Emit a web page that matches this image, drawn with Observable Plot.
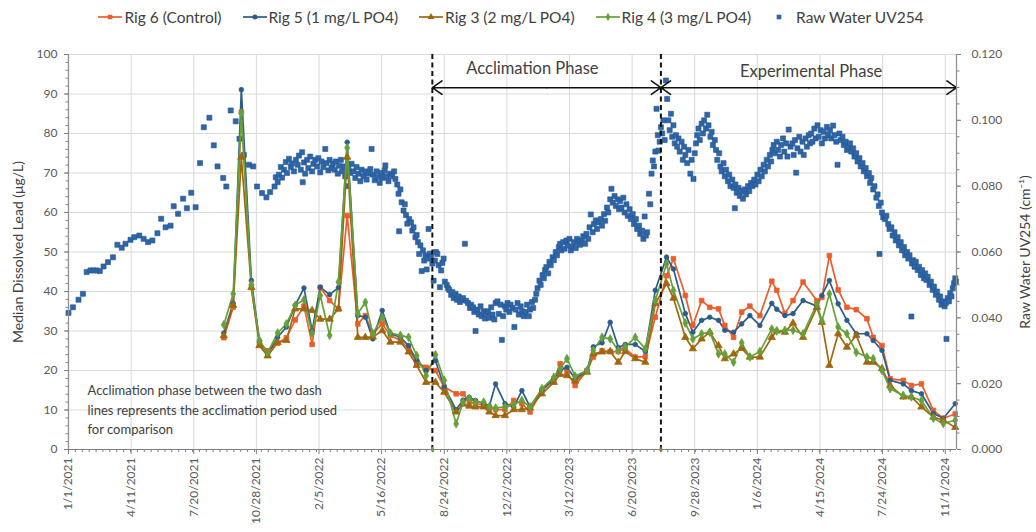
<!DOCTYPE html>
<html><head><meta charset="utf-8">
<script src="https://cdn.jsdelivr.net/npm/d3@7"></script>
<script src="https://cdn.jsdelivr.net/npm/@observablehq/plot@0.6"></script>
<style>
body{margin:0;background:#fff;font-family:Lato,"Open Sans",sans-serif;}
#legend{height:34px;display:flex;justify-content:center;align-items:center;gap:21px;font-size:15.5px;color:#404040;padding-right:14px;box-sizing:border-box;width:1036px}
.item{display:flex;align-items:center;gap:2px;white-space:nowrap}
</style></head><body><div id="legend"></div><div id="chart"></div>
<script>
// ---------- Tick labels ----------
const xTickLabels = ["1/1/2021","4/11/2021","7/20/2021","10/28/2021","2/5/2022","5/16/2022","8/24/2022","12/2/2022","3/12/2023","6/20/2023","9/28/2023","1/6/2024","4/15/2024","7/24/2024","11/1/2024"];
const yLeftTicks = [0,10,20,30,40,50,60,70,80,90,100];
const yRightTicks = [0,0.02,0.04,0.06,0.08,0.10,0.12];

// ---------- Series names ----------
const seriesNames = ["Rig 6 (Control)","Rig 5 (1 mg/L PO4)","Rig 3 (2 mg/L PO4)","Rig 4 (3 mg/L PO4)","Raw Water UV254"];

// ---------- Lead data (µg/L) ----------
const leadDates = ["2021-09-06","2021-09-21","2021-10-04","2021-10-20","2021-11-02","2021-11-15","2021-12-01","2021-12-15","2021-12-29","2022-01-12","2022-01-25","2022-02-07","2022-02-22","2022-03-08","2022-03-22","2022-04-08","2022-04-20","2022-05-02","2022-05-17","2022-05-30","2022-06-15","2022-06-28","2022-07-11","2022-07-26","2022-08-10","2022-08-24","2022-09-12","2022-09-23","2022-10-03","2022-10-13","2022-10-26","2022-11-04","2022-11-14","2022-11-29","2022-12-13","2022-12-26","2023-01-08","2023-01-27","2023-02-15","2023-02-25","2023-03-08","2023-03-21","2023-04-09","2023-04-19","2023-05-03","2023-05-16","2023-05-29","2023-06-09","2023-06-25","2023-07-11","2023-07-27","2023-08-14","2023-08-25","2023-09-13","2023-09-25","2023-10-09","2023-10-22","2023-11-05","2023-11-15","2023-11-29","2023-12-12","2023-12-25","2024-01-10","2024-01-29","2024-02-06","2024-02-19","2024-03-03","2024-03-19","2024-04-10","2024-04-18","2024-04-30","2024-05-14","2024-05-28","2024-06-12","2024-06-29","2024-07-09","2024-07-23","2024-08-05","2024-08-26","2024-09-08","2024-09-24","2024-10-13","2024-10-29","2024-11-17"];
const rig6 = [28.3,36.0,85.4,41.1,26.8,25.0,26.9,28.3,32.8,36.3,26.6,41.0,37.7,35.6,59.2,31.8,33.9,29.3,31.8,28.9,27.6,25.5,22.1,20.8,20.0,15.8,14.1,14.1,12.0,11.6,11.2,10.5,10.1,10.1,12.4,11.6,9.5,15.0,17.5,21.7,19.5,16.2,20.0,23.4,25.0,24.8,24.8,25.5,23.4,23.5,33.5,44.0,48.3,39.0,31.4,37.7,36.0,35.6,31.4,28.4,34.8,36.3,33.9,42.6,40.3,34.4,37.7,42.4,37.7,38.5,49.1,40.4,36.0,35.4,33.1,28.4,26.3,17.9,17.5,16.2,16.6,9.9,7.9,9.0];
const rig5 = [29.5,37.0,91.1,42.8,27.5,24.2,28.4,31.0,36.5,40.9,30.0,41.1,39.2,41.0,77.8,33.9,33.5,28.0,35.2,29.3,28.4,26.3,22.5,20.0,22.5,15.8,10.1,12.5,13.2,12.4,11.5,11.0,16.6,11.6,10.8,14.9,10.8,15.0,18.0,20.0,20.8,17.9,20.0,26.0,27.0,32.2,25.8,26.6,26.6,24.8,40.3,48.7,45.7,34.4,29.7,32.7,33.5,32.7,30.2,29.7,31.8,33.9,31.4,37.0,35.5,33.9,34.4,37.7,36.3,39.0,42.8,36.9,32.7,29.3,29.3,27.6,25.1,17.5,16.6,14.9,14.1,9.1,7.9,11.6];
const rig3 = [28.8,36.5,74.0,41.0,26.3,23.7,27.1,27.6,35.6,35.6,35.2,33.0,33.0,35.6,74.0,28.4,28.4,28.5,30.1,27.2,27.2,24.7,21.3,17.0,17.0,14.5,9.5,11.5,11.0,10.8,10.8,9.5,8.6,8.6,10.1,10.1,10.5,14.1,17.0,19.0,18.7,17.3,19.6,24.2,24.7,24.8,22.1,24.8,23.0,22.1,36.9,42.0,38.3,28.4,25.5,28.0,29.7,26.3,23.0,24.2,25.6,23.4,23.4,28.4,30.0,29.7,32.0,28.4,36.0,32.2,21.3,29.3,25.9,28.9,22.1,22.1,20.5,16.2,13.3,13.3,10.8,8.2,7.4,5.6];
const rig4 = [31.6,39.4,85.2,41.8,27.6,24.5,29.5,31.8,36.5,37.9,29.4,39.0,28.9,42.4,76.4,34.4,37.3,29.3,33.5,29.5,28.9,28.4,23.8,18.7,24.0,17.5,6.5,12.0,12.9,12.0,12.0,10.8,10.5,10.8,11.4,12.4,10.8,15.4,18.3,20.5,23.0,18.6,20.0,25.1,28.4,28.0,25.1,26.0,28.4,25.5,37.7,47.0,40.3,32.0,28.0,29.3,29.7,24.2,24.2,22.1,27.0,23.4,24.8,30.5,30.0,30.2,30.2,29.3,36.9,32.5,39.4,31.0,29.3,24.6,23.4,23.0,20.0,15.4,13.7,13.3,12.4,7.9,6.6,7.4];

// ---------- Raw water UV254 (cm-1) ----------
const uv2021 = [["2021-01-01",.0415],["2021-01-08",.0432],["2021-01-17",.0455],["2021-01-24",.0473],["2021-01-30",.0539],["2021-02-05",.0544],["2021-02-10",.0544],["2021-02-15",.0544],["2021-02-20",.0542],["2021-02-26",.0556],["2021-03-05",.0569],["2021-03-13",.0584],["2021-03-20",.0622],["2021-03-27",.0613],["2021-04-02",.0625],["2021-04-10",.0637],["2021-04-16",.0645],["2021-04-24",.065],["2021-05-01",.064],["2021-05-08",.063],["2021-05-15",.0635],["2021-05-23",.0657],["2021-05-29",.0701],["2021-06-05",.0675],["2021-06-13",.068],["2021-06-18",.0739],["2021-06-25",.0716],["2021-07-03",.0762],["2021-07-09",.0733],["2021-07-16",.078],["2021-07-23",.0736],["2021-07-30",.087],["2021-08-05",.0979],["2021-08-14",.1008],["2021-08-21",.0924],["2021-08-27",.086],["2021-09-05",.0825],["2021-09-10",.0799],["2021-09-17",.103],["2021-09-25",.0997],["2021-10-01",.0944],["2021-10-08",.0895],["2021-10-16",.0865],["2021-10-23",.086],["2021-10-29",.0799],["2021-11-06",.0779],["2021-11-13",.0766],["2021-11-19",.0782],["2021-11-26",.0799],["2021-11-28",.0827],
["2021-12-01",.0812],["2021-12-03",.0835],["2021-12-06",.0858],["2021-12-08",.0826],["2021-12-11",.085],["2021-12-14",.0873],["2021-12-16",.084],["2021-12-19",.0883],["2021-12-22",.0858],["2021-12-24",.0869],["2021-12-27",.0845],["2021-12-30",.088]];
const uv2022 = [["2022-01-02",.0865],["2022-01-04",.0893],["2022-01-07",.085],["2022-01-09",.0903],["2022-01-10",.0812],["2022-01-12",.0872],["2022-01-14",.0838],["2022-01-17",.088],["2022-01-19",.0855],["2022-01-22",.089],["2022-01-25",.0845],["2022-01-27",.0868],["2022-01-30",.088],
["2022-02-02",.086],["2022-02-04",.0885],["2022-02-07",.0842],["2022-02-09",.0875],["2022-02-12",.0858],["2022-02-15",.0913],["2022-02-17",.087],["2022-02-20",.0848],["2022-02-22",.088],["2022-02-25",.0855],["2022-02-27",.0868],
["2022-03-02",.085],["2022-03-04",.0875],["2022-03-07",.0838],["2022-03-09",.0862],["2022-03-12",.088],["2022-03-14",.0845],["2022-03-17",.086],["2022-03-19",.083],["2022-03-22",.08],["2022-03-24",.0855],["2022-03-27",.084],["2022-03-29",.0868],
["2022-04-01",.0845],["2022-04-04",.0825],["2022-04-06",.0858],["2022-04-09",.0838],["2022-04-12",.0815],["2022-04-14",.085],["2022-04-17",.083],["2022-04-20",.0845],["2022-04-22",.082],["2022-04-25",.0838],["2022-04-28",.0852],["2022-04-30",.0913],
["2022-05-02",.0835],["2022-05-05",.0818],["2022-05-08",.0845],["2022-05-10",.0828],["2022-05-13",.081],["2022-05-16",.084],["2022-05-18",.0825],["2022-05-21",.0848],["2022-05-22",.0863],["2022-05-24",.083],["2022-05-27",.0815],["2022-05-30",.0838],
["2022-06-02",.083],["2022-06-05",.0845],["2022-06-07",.0822],["2022-06-10",.0805],["2022-06-12",.0777],["2022-06-13",.0663],["2022-06-15",.079],["2022-06-17",.0751],["2022-06-20",.0726],["2022-06-22",.0745],["2022-06-24",.0712],["2022-06-26",.0686],["2022-06-29",.07],
["2022-07-02",.069],["2022-07-04",.0665],["2022-07-06",.0675],["2022-07-09",.0645],["2022-07-11",.0652],["2022-07-13",.063],["2022-07-15",.0594],["2022-07-17",.062],["2022-07-19",.0542],["2022-07-21",.0605],["2022-07-23",.0574],["2022-07-25",.059],["2022-07-27",.0547],["2022-07-29",.058],["2022-07-30",.067],
["2022-08-01",.0595],["2022-08-03",.0584],["2022-08-05",.0565],["2022-08-07",.0513],["2022-08-09",.0574],["2022-08-11",.06],["2022-08-13",.0594],["2022-08-15",.056],["2022-08-17",.0493],["2022-08-19",.0544],["2022-08-21",.0567],["2022-08-23",.058],["2022-08-25",.051],["2022-08-28",.05],["2022-08-30",.049],
["2022-09-01",.0485],["2022-09-04",.047],["2022-09-06",.0478],["2022-09-08",.046],["2022-09-11",.0473],["2022-09-13",.0455],["2022-09-16",.0465],["2022-09-18",.0448],["2022-09-21",.0455],["2022-09-23",.046],["2022-09-26",.0625],["2022-09-28",.0452],
["2022-10-01",.0445],["2022-10-04",.043],["2022-10-06",.044],["2022-10-09",.0432],["2022-10-11",.0418],["2022-10-13",.036],["2022-10-16",.0425],["2022-10-18",.041],["2022-10-21",.0435],["2022-10-23",.0405],["2022-10-26",.042],["2022-10-28",.0398],["2022-10-31",.0415],
["2022-11-02",.042],["2022-11-04",.04],["2022-11-07",.0432],["2022-11-09",.041],["2022-11-12",.0395],["2022-11-14",.0445],["2022-11-17",.045],["2022-11-19",.0412],["2022-11-22",.044],["2022-11-24",.0333],["2022-11-26",.0405],["2022-11-29",.0435],
["2022-12-01",.0425],["2022-12-03",.0445],["2022-12-06",.0418],["2022-12-08",.044],["2022-12-11",.043],["2022-12-14",.0372],["2022-12-16",.0425],["2022-12-19",.0445],["2022-12-21",.041],["2022-12-24",.0435],["2022-12-26",.042],["2022-12-29",.0405]];
const uv2023 = [["2023-01-01",.0418],["2023-01-03",.044],["2023-01-06",.0405],["2023-01-08",.0425],["2023-01-11",.0448],["2023-01-13",.043],["2023-01-16",.0455],["2023-01-18",.0473],["2023-01-20",.049],["2023-01-23",.0513],["2023-01-25",.05],["2023-01-28",.053],["2023-01-30",.052],
["2023-02-01",.0545],["2023-02-03",.0554],["2023-02-06",.0535],["2023-02-08",.057],["2023-02-10",.056],["2023-02-13",.0584],["2023-02-15",.0575],["2023-02-18",.06],["2023-02-20",.059],["2023-02-23",.0615],["2023-02-25",.0625],["2023-02-27",.0605],
["2023-03-02",.063],["2023-03-04",.061],["2023-03-07",.0635],["2023-03-09",.062],["2023-03-12",.064],["2023-03-14",.0605],["2023-03-17",.0615],["2023-03-19",.063],["2023-03-22",.0612],["2023-03-24",.064],["2023-03-27",.063],["2023-03-29",.0622],
["2023-04-01",.0635],["2023-04-03",.0648],["2023-04-06",.0625],["2023-04-08",.0655],["2023-04-11",.064],["2023-04-13",.0675],["2023-04-15",.0714],["2023-04-18",.066],["2023-04-20",.0685],["2023-04-23",.0696],["2023-04-25",.067],["2023-04-28",.069],
["2023-05-01",.07],["2023-05-03",.068],["2023-05-06",.0715],["2023-05-08",.0695],["2023-05-11",.0735],["2023-05-13",.072],["2023-05-16",.076],["2023-05-18",.0792],["2023-05-20",.075],["2023-05-23",.077],["2023-05-25",.074],["2023-05-28",.076],["2023-05-30",.073],
["2023-06-01",.0755],["2023-06-03",.0735],["2023-06-06",.0765],["2023-06-08",.072],["2023-06-11",.0745],["2023-06-13",.071],["2023-06-16",.073],["2023-06-18",.07],["2023-06-21",.0715],["2023-06-23",.0685],["2023-06-26",.07],["2023-06-28",.067],
["2023-07-01",.068],["2023-07-03",.0655],["2023-07-06",.0665],["2023-07-08",.064],["2023-07-10",.0708],["2023-07-12",.065],["2023-07-14",.066],["2023-07-17",.0777],["2023-07-19",.0745],["2023-07-21",.0838],["2023-07-23",.0878],["2023-07-25",.086],["2023-07-27",.0905],["2023-07-29",.1035],["2023-07-31",.0955],
["2023-08-01",.0908],["2023-08-03",.0935],["2023-08-05",.0979],["2023-08-07",.096],["2023-08-09",.1],["2023-08-11",.094],["2023-08-13",.1121],["2023-08-15",.1065],["2023-08-17",.1],["2023-08-19",.097],["2023-08-21",.102],["2023-08-23",.095],["2023-08-25",.0985],["2023-08-27",.093],["2023-08-29",.0955],["2023-08-31",.092],
["2023-09-02",.0945],["2023-09-04",.0905],["2023-09-07",.0935],["2023-09-09",.088],["2023-09-11",.092],["2023-09-13",.0895],["2023-09-16",.087],["2023-09-18",.091],["2023-09-21",.0838],["2023-09-23",.088],["2023-09-26",.0822],["2023-09-28",.09],["2023-09-30",.093],
["2023-10-02",.0955],["2023-10-04",.0975],["2023-10-06",.094],["2023-10-09",.099],["2023-10-11",.096],["2023-10-13",.1],["2023-10-16",.0975],["2023-10-18",.1017],["2023-10-20",.0985],["2023-10-23",.095],["2023-10-25",.0965],["2023-10-27",.0925],["2023-10-30",.094],
["2023-11-01",.091],["2023-11-03",.088],["2023-11-06",.09],["2023-11-08",.086],["2023-11-10",.0845],["2023-11-13",.087],["2023-11-15",.083],["2023-11-17",.085],["2023-11-20",.0815],["2023-11-22",.0835],["2023-11-24",.08],["2023-11-27",.082],["2023-11-29",.0795],
["2023-12-01",.0733],["2023-12-02",.0805],["2023-12-04",.078],["2023-12-07",.0795],["2023-12-09",.077],["2023-12-12",.0785],["2023-12-14",.0762],["2023-12-17",.079],["2023-12-19",.0775],["2023-12-22",.08],["2023-12-24",.0785],["2023-12-27",.081],["2023-12-29",.08]];
const uv2024 = [["2024-01-01",.082],["2024-01-03",.0805],["2024-01-06",.0835],["2024-01-08",.0815],["2024-01-11",.085],["2024-01-13",.083],["2024-01-16",.0865],["2024-01-18",.0845],["2024-01-21",.088],["2024-01-23",.086],["2024-01-26",.0895],["2024-01-28",.0875],["2024-01-30",.091],
["2024-02-01",.0925],["2024-02-03",.09],["2024-02-06",.0935],["2024-02-08",.091],["2024-02-11",.089],["2024-02-13",.0925],["2024-02-16",.0945],["2024-02-18",.0905],["2024-02-21",.093],["2024-02-23",.089],["2024-02-25",.0972],["2024-02-28",.092],
["2024-03-02",.093],["2024-03-04",.0895],["2024-03-06",.094],["2024-03-08",.0841],["2024-03-10",.0915],["2024-03-13",.095],["2024-03-15",.0905],["2024-03-18",.0935],["2024-03-20",.0895],["2024-03-23",.0945],["2024-03-25",.092],["2024-03-28",.0955],["2024-03-30",.093],
["2024-04-01",.096],["2024-04-03",.0935],["2024-04-06",.0975],["2024-04-08",.0945],["2024-04-11",.0985],["2024-04-13",.095],["2024-04-16",.097],["2024-04-18",.093],["2024-04-21",.0965],["2024-04-23",.0945],["2024-04-26",.098],["2024-04-28",.0955],
["2024-05-01",.097],["2024-05-03",.0945],["2024-05-06",.0984],["2024-05-08",.0955],["2024-05-11",.0935],["2024-05-13",.0865],["2024-05-16",.096],["2024-05-18",.094],["2024-05-21",.095],["2024-05-23",.0925],["2024-05-26",.0935],["2024-05-28",.091],["2024-05-31",.092],
["2024-06-02",.093],["2024-06-04",.0905],["2024-06-07",.0915],["2024-06-09",.089],["2024-06-12",.09],["2024-06-14",.0875],["2024-06-17",.0885],["2024-06-19",.086],["2024-06-22",.087],["2024-06-24",.0845],["2024-06-27",.0855],["2024-06-29",.083],
["2024-07-02",.084],["2024-07-04",.081],["2024-07-06",.0825],["2024-07-09",.079],["2024-07-11",.08],["2024-07-14",.0765],["2024-07-16",.0775],["2024-07-18",.074],["2024-07-19",.0594],["2024-07-21",.075],["2024-07-23",.072],["2024-07-25",.0705],["2024-07-28",.07],["2024-07-30",.071],
["2024-08-02",.0685],["2024-08-04",.067],["2024-08-07",.0675],["2024-08-09",.065],["2024-08-12",.066],["2024-08-14",.0635],["2024-08-17",.0645],["2024-08-19",.062],["2024-08-22",.063],["2024-08-24",.0605],["2024-08-27",.0615],["2024-08-29",.059],
["2024-09-01",.06],["2024-09-03",.058],["2024-09-05",.059],["2024-09-08",.0404],["2024-09-09",.0565],["2024-09-11",.0575],["2024-09-13",.0555],["2024-09-15",.057],["2024-09-18",.0545],["2024-09-20",.0555],["2024-09-23",.053],["2024-09-25",.0545],["2024-09-28",.052],["2024-09-30",.0535],
["2024-10-02",.0515],["2024-10-04",.0525],["2024-10-07",.05],["2024-10-09",.051],["2024-10-12",.0485],["2024-10-14",.0495],["2024-10-17",.047],["2024-10-19",.048],["2024-10-22",.0455],["2024-10-24",.0465],["2024-10-26",.044],["2024-10-29",.045],["2024-10-31",.0435],
["2024-11-02",.0445],["2024-11-03",.0336],["2024-11-05",.046],["2024-11-07",.045],["2024-11-09",.0475],["2024-11-11",.0465],["2024-11-13",.049],["2024-11-15",.0505],["2024-11-17",.052],["2024-11-18",.051]];

// ---------- Annotations ----------
const phaseBounds = ["2022-08-05","2023-08-05","2024-11-19"];
const phaseLabels = ["Acclimation Phase","Experimental Phase"];
const arrowLevel = 91.6;   // lead units
const noteText = "Acclimation phase between the two dash\nlines represents the acclimation period used\nfor comparison";

// ---------- Build ----------
const parse = s => new Date(s + "T00:00:00Z");
const parseMDY = s => { const [m,d,y] = s.split("/").map(Number); return new Date(Date.UTC(y, m-1, d)); };
const uvMax = 0.12, leadMax = 100, k = leadMax/uvMax;
const xStart = parse("2021-01-01"), xEnd = parse(phaseBounds[2]);
const xTicks = xTickLabels.map(parseMDY);
const xLabelOf = new Map(xTicks.map((d,i)=>[+d, xTickLabels[i]]));
const xMinor = d3.range(0, 1420, 11).map(n => new Date(+xStart + n*864e5)).filter(d => d <= xEnd);
const yMinor = d3.range(0, 101, 2);
const yRMinor = d3.range(0, 0.1201, 0.005).map(u => u*k);

const uvData = [...uv2021, ...uv2022, ...uv2023, ...uv2024].map(([d,u]) => ({date: parse(d), v: u*k}));
const lead = leadDates.map((d,i) => ({date: parse(d), r6: rig6[i], r5: rig5[i], r3: rig3[i], r4: rig4[i]}));

const C6 = "#EC5D2B", C5 = "#2B5C8A", C3 = "#A0670E", C4 = "#64A13A", CUV = "#2F66A9";
const series = [
  {key:"r6", name: seriesNames[0], color: C6, symbol: "square", r: 2.6},
  {key:"r5", name: seriesNames[1], color: C5, symbol: "circle", r: 2.3},
  {key:"r3", name: seriesNames[2], color: C3, symbol: "triangle", r: 2.7},
  {key:"r4", name: seriesNames[3], color: C4, symbol: "diamond", r: 2.6}
];

const phases = [0,1].map(i => ({start: parse(phaseBounds[i]), end: parse(phaseBounds[i+1]), label: phaseLabels[i]}));
const bounds = phaseBounds.slice(0,2).map(parse);
const arrowSegs = phases.flatMap(p => { const mid = new Date((+p.start + +p.end)/2); return [{from: mid, to: p.start}, {from: mid, to: p.end}]; });

const tickFont = 12;
const marks = [
  Plot.gridY(yLeftTicks.filter(v => v > 0), {stroke: "#d9d9d9", strokeOpacity: 1}),
  Plot.gridX(xTicks.filter((d,i)=>i>0), {stroke: "#d9d9d9", strokeOpacity: 1}),
  Plot.dot(uvData, {x: "date", y: "v", symbol: "square", r: 2.85, fill: CUV, stroke: "#24568F", strokeWidth: 0.6}),
];
for (const s of series) {
  marks.push(Plot.line(lead, {x: "date", y: s.key, stroke: s.color, strokeWidth: 1.7}));
}
for (const s of series) {
  marks.push(Plot.dot(lead, {x: "date", y: s.key, symbol: s.symbol, r: s.r, fill: s.color, stroke: s.color, strokeWidth: 0.8}));
}
marks.push(
  Plot.ruleX(bounds, {stroke: "#111", strokeWidth: 2, strokeDasharray: "5,3.5"}),
  Plot.dot([{date: bounds[0], v: 0, c: C4}, {date: bounds[1], v: 0, c: C3}], {x: "date", y: "v", fill: "c", r: 2, symbol: "diamond"}),
  Plot.arrow(arrowSegs, {x1: "from", x2: "to", y1: () => arrowLevel, y2: () => arrowLevel, stroke: "#111", strokeWidth: 1.6, headLength: 11, headAngle: 70}),
  Plot.text(phases.slice(0,1), {x: "start", y: () => arrowLevel, text: "label", textAnchor: "start", dx: 34, dy: -19, fontSize: 16.5, fill: "#404040"}),
  Plot.text(phases.slice(1,2), {x: "start", y: () => arrowLevel, text: "label", textAnchor: "start", dx: 79, dy: -16, fontSize: 16.5, fill: "#404040"}),
  Plot.text([noteText], {frameAnchor: "bottom-left", dx: 19, dy: -68, lineAnchor: "top", textAnchor: "start", text: d => d, fontSize: 13, lineHeight: 1.5, fill: "#404040"}),
  // axis lines
  Plot.ruleY([0], {stroke: "#7f7f7f", strokeWidth: 1.2}),
  Plot.ruleX([xStart], {stroke: "#8c8c8c", strokeWidth: 1.2}),
  Plot.ruleX([xEnd], {stroke: "#8c8c8c", strokeWidth: 1.2}),
  // x axis
  Plot.axisX({ticks: xTicks, tickSize: 5, tickPadding: 3, tickRotate: -90, tickFormat: d => xLabelOf.get(+d), label: null, fontSize: tickFont, stroke: "#7f7f7f"}),
  Plot.axisX({ticks: xMinor, tickSize: 3, tickFormat: () => "", label: null, stroke: "#7f7f7f"}),
  // left axis
  Plot.axisY({anchor: "left", ticks: yLeftTicks, tickSize: 4, tickPadding: 7, tickFormat: d => String(d), label: null, fontSize: tickFont, stroke: "#7f7f7f"}),
  Plot.axisY({anchor: "left", ticks: yMinor, tickSize: 2.5, tickFormat: () => "", label: null, stroke: "#7f7f7f"}),
  // right axis
  Plot.axisY({anchor: "right", ticks: yRightTicks.map(u => u*k), tickSize: 4, tickPadding: 11, tickFormat: v => (v/k).toFixed(3), label: null, fontSize: tickFont, stroke: "#7f7f7f"}),
  Plot.axisY({anchor: "right", ticks: yRMinor, tickSize: 2.5, tickFormat: () => "", label: null, stroke: "#7f7f7f"}),
  // axis titles
  Plot.text(["Median Dissolved Lead (μg/L)"], {frameAnchor: "left", dx: -50, rotate: -90, textAnchor: "middle", text: d => d, fontSize: 14, fill: "#404040"}),
  Plot.text(["Raw Water UV254 (cm⁻¹)"], {frameAnchor: "right", dx: 69, rotate: -90, textAnchor: "middle", text: d => d, fontSize: 14, fill: "#404040"})
);

const chart = Plot.plot({
  width: 1036, height: 498,
  marginLeft: 68, marginRight: 80, marginTop: 20, marginBottom: 83,
  style: {fontFamily: "Lato, 'Open Sans', sans-serif", fontSize: tickFont + "px", color: "#595959", background: "#fff", overflow: "visible"},
  x: {type: "utc", domain: [xStart, xEnd]},
  y: {domain: [0, leadMax]},
  marks
});
document.getElementById("chart").appendChild(chart);

// legend
const legend = document.getElementById("legend");
const symPath = (sym, size) => d3.symbol(sym, size)();
const legendDefs = [
  {name: seriesNames[0], color: C6, sym: d3.symbolSquare, line: true},
  {name: seriesNames[1], color: C5, sym: d3.symbolCircle, line: true},
  {name: seriesNames[2], color: C3, sym: d3.symbolTriangle, line: true},
  {name: seriesNames[3], color: C4, sym: d3.symbolDiamond, line: true},
  {name: seriesNames[4], color: CUV, sym: d3.symbolSquare, line: false}
];
for (const it of legendDefs) {
  const div = document.createElement("div");
  div.className = "item";
  const w = it.line ? 24 : 22;
  div.innerHTML = `<svg width="${w}" height="12" viewBox="0 0 ${w} 12">${it.line ? `<line x1="0" x2="${w}" y1="6" y2="6" stroke="${it.color}" stroke-width="1.7"/>` : ""}<path transform="translate(${it.line ? w/2 : 7},6)" d="${symPath(it.sym, it.line ? 20 : 22)}" fill="${it.color}"/></svg><span>${it.name}</span>`;
  legend.appendChild(div);
}
</script></body></html>
